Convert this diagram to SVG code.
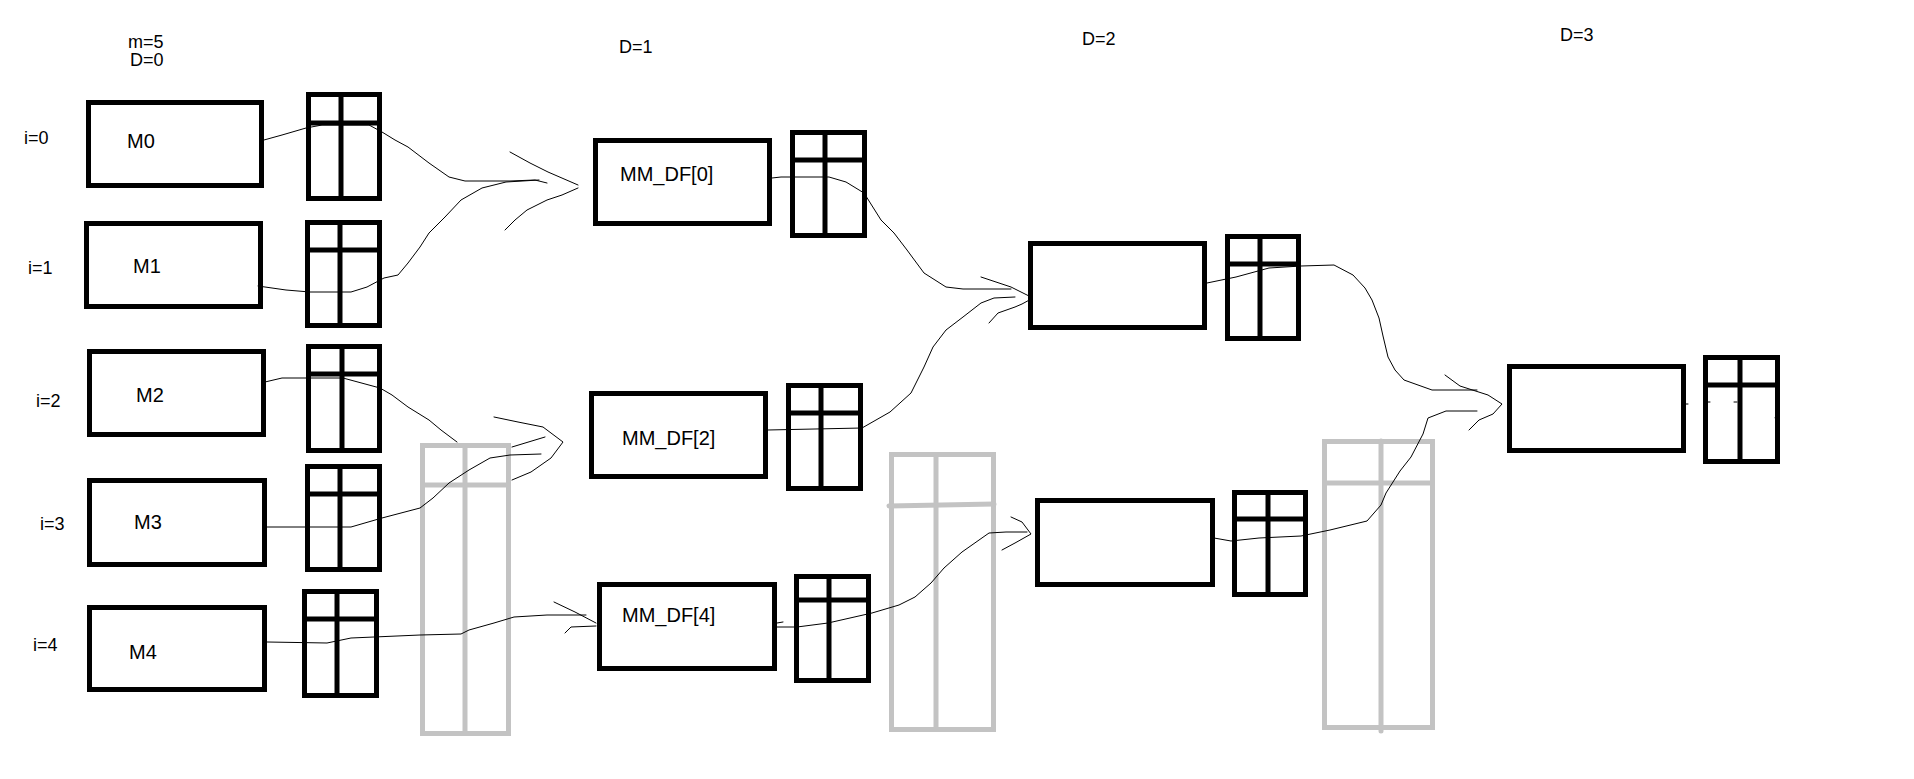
<svg xmlns="http://www.w3.org/2000/svg" width="1914" height="779" viewBox="0 0 1914 779">
<style>
.bx{fill:none;stroke:#000;stroke-width:5}
.gr{fill:none;stroke:#c3c3c3;stroke-width:5}
.ln{fill:none;stroke:#000;stroke-width:1;stroke-linejoin:round;stroke-linecap:round}
.t{font-family:"Liberation Sans",Arial,sans-serif;font-size:18px;fill:#000}
.tb{font-family:"Liberation Sans",Arial,sans-serif;font-size:20px;fill:#000}
</style>
<rect width="1914" height="779" fill="#fff"/>
<g id="labels">
<text class="t" x="128" y="48">m=5</text>
<text class="t" x="130" y="66">D=0</text>
<text class="t" x="619" y="53">D=1</text>
<text class="t" x="1082" y="45">D=2</text>
<text class="t" x="1560" y="41">D=3</text>
<text class="t" x="24" y="144">i=0</text>
<text class="t" x="28" y="274">i=1</text>
<text class="t" x="36" y="407">i=2</text>
<text class="t" x="40" y="530">i=3</text>
<text class="t" x="33" y="651">i=4</text>
</g>
<g id="M0"><rect class="bx" x="88.5" y="102.5" width="173" height="83"/><text class="tb" x="127" y="148">M0</text></g>
<g id="M1"><rect class="bx" x="86.5" y="223.5" width="174" height="83"/><text class="tb" x="133" y="273">M1</text></g>
<g id="M2"><rect class="bx" x="89.5" y="351.5" width="174" height="83"/><text class="tb" x="136" y="402">M2</text></g>
<g id="M3"><rect class="bx" x="89.5" y="480.5" width="175" height="84"/><text class="tb" x="134" y="529">M3</text></g>
<g id="M4"><rect class="bx" x="89.5" y="607.5" width="175" height="82"/><text class="tb" x="129" y="659">M4</text></g>
<g id="T0"><rect class="bx" x="308.5" y="94.5" width="71" height="104"/><line class="bx" x1="308" y1="123" x2="380" y2="123"/><line class="bx" x1="341" y1="94" x2="341" y2="199"/></g>
<g id="T1"><rect class="bx" x="307.5" y="222.5" width="72" height="103"/><line class="bx" x1="307" y1="250" x2="380" y2="250"/><line class="bx" x1="340" y1="222" x2="340" y2="326"/></g>
<g id="T2"><rect class="bx" x="308.5" y="346.5" width="71" height="104"/><line class="bx" x1="308" y1="374" x2="380" y2="374"/><line class="bx" x1="342" y1="346" x2="342" y2="451"/></g>
<g id="T3"><rect class="bx" x="307.5" y="466.5" width="72" height="103"/><line class="bx" x1="307" y1="494" x2="380" y2="494"/><line class="bx" x1="340" y1="466" x2="340" y2="570"/></g>
<g id="T4"><rect class="bx" x="304.5" y="591.5" width="72" height="104"/><line class="bx" x1="304" y1="619" x2="377" y2="619"/><line class="bx" x1="337" y1="591" x2="337" y2="696"/></g>
<g id="G1"><rect class="gr" x="422.5" y="445.5" width="86" height="288"/><line class="gr" x1="422" y1="485" x2="509" y2="485"/><line class="gr" x1="465" y1="445" x2="465" y2="734"/></g>
<g id="MM_DF0"><rect class="bx" x="595.5" y="140.5" width="174" height="83"/><text class="tb" x="620" y="181">MM_DF[0]</text></g>
<g id="MM_DF2"><rect class="bx" x="591.5" y="393.5" width="174" height="83"/><text class="tb" x="622" y="445">MM_DF[2]</text></g>
<g id="MM_DF4"><rect class="bx" x="599.5" y="584.5" width="175" height="84"/><text class="tb" x="622" y="622">MM_DF[4]</text></g>
<g id="TD0"><rect class="bx" x="792.5" y="132.5" width="72" height="103"/><line class="bx" x1="792" y1="160" x2="865" y2="160"/><line class="bx" x1="825" y1="132" x2="825" y2="236"/></g>
<g id="TD2"><rect class="bx" x="788.5" y="385.5" width="72" height="103"/><line class="bx" x1="788" y1="413" x2="861" y2="413"/><line class="bx" x1="821" y1="385" x2="821" y2="489"/></g>
<g id="TD4"><rect class="bx" x="796.5" y="576.5" width="72" height="104"/><line class="bx" x1="796" y1="600" x2="869" y2="600"/><line class="bx" x1="829" y1="576" x2="829" y2="681"/></g>
<g id="G2"><rect class="gr" x="891.5" y="454.5" width="102" height="275"/><line class="gr" x1="889" y1="506" x2="994" y2="504" stroke-linecap="round"/><line class="gr" x1="936" y1="452" x2="936" y2="730"/></g>
<g id="N2a"><rect class="bx" x="1030.5" y="243.5" width="174" height="84"/></g>
<g id="N2b"><rect class="bx" x="1037.5" y="500.5" width="175" height="84"/></g>
<g id="TN2a"><rect class="bx" x="1227.5" y="236.5" width="71" height="102"/><line class="bx" x1="1227" y1="264" x2="1299" y2="264"/><line class="bx" x1="1260" y1="236" x2="1260" y2="339"/></g>
<g id="TN2b"><rect class="bx" x="1234.5" y="492.5" width="71" height="102"/><line class="bx" x1="1234" y1="519" x2="1306" y2="519"/><line class="bx" x1="1268" y1="492" x2="1268" y2="595"/></g>
<g id="G3"><rect class="gr" x="1324.5" y="441.5" width="108" height="286"/><line class="gr" x1="1324" y1="483" x2="1433" y2="483"/><line class="gr" x1="1381" y1="441" x2="1381" y2="731" stroke-linecap="round"/></g>
<g id="N3"><rect class="bx" x="1509.5" y="366.5" width="174" height="84"/></g>
<g id="TN3"><rect class="bx" x="1705.5" y="357.5" width="72" height="104"/><line class="bx" x1="1705" y1="385" x2="1778" y2="385"/><line class="bx" x1="1740" y1="357" x2="1740" y2="462"/></g>
<g id="connectors">
<path class="ln" d="M264,140 L282,135 L306,128 L322,125 L369,125 L382,132 L395,140 L408,147 L429,163 L449,177 L465,181 L510,181 L535,180 L547,183"/>
<path class="ln" d="M258,286 L286,290 L310,292 L351,292 L367,287 L384,278 L398,275 L408,263 L420,247 L429,233 L445,217 L461,200 L482,188 L506,182 L539,180"/>
<path class="ln" d="M510,152 L530,163 L548,172 L578,185 M578,188 L562,195 L547,200 L527,210 L515,220 L505,230"/>
<path class="ln" d="M265,382 L282,378 L343,378 L380,388 L392,395 L408,407 L429,420 L441,430 L457,442"/>
<path class="ln" d="M267,527 L351,527 L382,518 L420,508 L433,498 L449,483 L469,470 L490,458 L510,455 L541,454"/>
<path class="ln" d="M494,417 L518,422 L543,427 L563,442 L551,458 L531,472 L512,480 M512,447 L545,437"/>
<path class="ln" d="M267,642 L327,643 L351,638 L420,635 L461,634 L469,630 L494,623 L514,617 L547,615 L586,615"/>
<path class="ln" d="M554,602 L575,612 L596,623 M596,626 L571,627 L565,633"/>
<path class="ln" d="M772,178 L781,177 L829,177 L846,182 L864,193 L881,220 L894,233 L907,250 L924,273 L946,287 L963,289 L1011,289"/>
<path class="ln" d="M768,430 L862,428 L890,412 L911,393 L924,367 L933,347 L946,330 L963,317 L981,303 L994,298 L1015,297"/>
<path class="ln" d="M981,277 L1011,287 L1033,298 L1022,304 L1015,307 L998,313 L989,323"/>
<path class="ln" d="M777,627 L797,627 L828,623 L872,613 L899,605 L915,597 L931,583 L944,568 L962,552 L989,533 L1006,532 L1027,532 M777,623 L783,622"/>
<path class="ln" d="M1011,517 L1022,522 L1031,534 L1015,543 L1002,550"/>
<path class="ln" d="M1207,283 L1236,277 L1269,268 L1301,266 L1334,265 L1353,275 L1365,288 L1372,300 L1379,318 L1383,336 L1388,357 L1395,370 L1404,380 L1432,390 L1477,390"/>
<path class="ln" d="M1214,538 L1231,541 L1259,538 L1301,536 L1330,530 L1367,521 L1381,505 L1386,493 L1400,471 L1411,457 L1423,434 L1428,418 L1446,411 L1477,411"/>
<path class="ln" d="M1445,375 L1460,386 L1488,395 L1502,404 L1493,414 L1479,420 L1469,430"/>
<path class="ln" d="M1686,404 L1688,404 M1707,402 L1710,402 M1734,402 L1737,402 M1775,418 L1779,423"/>
</g>
</svg>
